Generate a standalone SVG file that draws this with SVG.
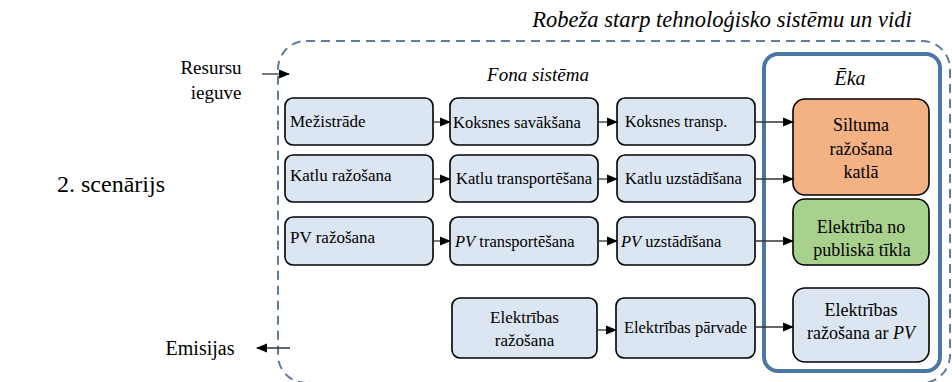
<svg xmlns="http://www.w3.org/2000/svg" width="952" height="382" viewBox="0 0 952 382">
<defs>
<marker id="ah" markerWidth="11" markerHeight="10" refX="10" refY="5" orient="auto" markerUnits="userSpaceOnUse">
<path d="M0,0.5 L11,5 L0,9.5 Z" fill="#000"/>
</marker>
<style>
.box{fill:#dce6f2;stroke:#000;stroke-width:1.6;}
.c{stroke:#333;stroke-width:1.3;fill:none;marker-end:url(#ah);}
.it{font-style:italic;}
</style>
</defs>
<rect width="952" height="382" fill="#fff"/>
<rect x="278" y="41" width="672" height="342" rx="28" fill="none" stroke="#5d7c9f" stroke-width="2" stroke-dasharray="9 6"/>
<g font-family="Liberation Serif, Times New Roman, serif" fill="#000">
<text class="it" x="722" y="27" font-size="22.5" text-anchor="middle">Robeža starp tehnoloģisko sistēmu un vidi</text>
<text class="it" x="538" y="81" font-size="19" text-anchor="middle">Fona sistēma</text>
<g id="eka">
<rect x="764" y="54" width="176" height="317" rx="14" fill="none" stroke="#4c77a3" stroke-width="4"/>
<text class="it" x="850" y="85" font-size="20" text-anchor="middle">Ēka</text>
</g>
<text x="211" y="74" font-size="19" text-anchor="middle">Resursu</text>
<text x="216" y="99" font-size="19" text-anchor="middle">ieguve</text>
<text x="111" y="192" font-size="24" text-anchor="middle">2. scenārijs</text>
<text x="200" y="355" font-size="20" text-anchor="middle">Emisijas</text>
<g id="mezistrade"><rect class="box" x="285" y="98" width="148" height="47" rx="8"/><text x="290" y="127" font-size="17">Mežistrāde</text></g>
<g id="koksnes_savaksana"><rect class="box" x="450" y="98" width="148" height="47" rx="8"/><text x="453" y="128" font-size="16.5">Koksnes savākšana</text></g>
<g id="koksnes_transp"><rect class="box" x="617" y="98" width="138" height="47" rx="8"/><text x="625" y="127" font-size="16">Koksnes transp.</text></g>
<g id="katlu_razosana"><rect class="box" x="285" y="155" width="148" height="47" rx="8"/><text x="290" y="181" font-size="17">Katlu ražošana</text></g>
<g id="katlu_transportesana"><rect class="box" x="450" y="155" width="148" height="47" rx="8"/><text x="456" y="184" font-size="16.5">Katlu transportēšana</text></g>
<g id="katlu_uzstadisana"><rect class="box" x="617" y="155" width="138" height="47" rx="8"/><text x="625" y="184" font-size="16.5">Katlu uzstādīšana</text></g>
<g id="pv_razosana"><rect class="box" x="285" y="217" width="148" height="48" rx="8"/><text x="290" y="243" font-size="17">PV ražošana</text></g>
<g id="pv_transportesana"><rect class="box" x="450" y="217" width="148" height="48" rx="8"/><text x="455" y="247" font-size="16.5"><tspan class="it">PV</tspan> transportēšana</text></g>
<g id="pv_uzstadisana"><rect class="box" x="617" y="217" width="138" height="48" rx="8"/><text x="621" y="247" font-size="16.5"><tspan class="it">PV</tspan> uzstādīšana</text></g>
<g id="elektribas_razosana"><rect class="box" x="452" y="298" width="145" height="60" rx="8"/><text x="524.5" y="323" font-size="17" text-anchor="middle">Elektrības</text><text x="524.5" y="346" font-size="17" text-anchor="middle">ražošana</text></g>
<g id="elektribas_parvade"><rect class="box" x="616" y="298" width="139" height="60" rx="8"/><text x="685.5" y="333" font-size="16.5" text-anchor="middle">Elektrības pārvade</text></g>
<g id="siltuma_razosana"><rect x="793" y="99" width="136" height="96" rx="12" fill="#f4b183" stroke="#000" stroke-width="1.6"/><text x="861" y="131" font-size="18" text-anchor="middle">Siltuma</text><text x="861" y="155" font-size="18" text-anchor="middle">ražošana</text><text x="861" y="178" font-size="18" text-anchor="middle">katlā</text></g>
<g id="elektriba_tikls"><rect x="793" y="199" width="136" height="66" rx="12" fill="#a9d18e" stroke="#000" stroke-width="1.6"/><text x="861" y="233" font-size="18" text-anchor="middle">Elektrība no</text><text x="862" y="256" font-size="18" text-anchor="middle">publiskā tīkla</text></g>
<g id="elektribas_pv"><rect class="box" x="793" y="288" width="136" height="74" rx="12"/><text x="861" y="316" font-size="18" text-anchor="middle">Elektrības</text><text x="861" y="339" font-size="18" text-anchor="middle">ražošana ar <tspan class="it">PV</tspan></text></g>
</g>
<g id="connectors">
<line class="c" x1="262" y1="74" x2="289" y2="74"/>
<line class="c" x1="290" y1="348" x2="257" y2="348"/>
<line class="c" x1="433" y1="122" x2="450" y2="122"/>
<line class="c" x1="598" y1="122" x2="617" y2="122"/>
<line class="c" x1="755" y1="122" x2="793" y2="122"/>
<line class="c" x1="433" y1="179" x2="450" y2="179"/>
<line class="c" x1="598" y1="179" x2="617" y2="179"/>
<line class="c" x1="755" y1="179" x2="793" y2="179"/>
<line class="c" x1="433" y1="241" x2="450" y2="241"/>
<line class="c" x1="598" y1="241" x2="617" y2="241"/>
<line class="c" x1="755" y1="241" x2="793" y2="241"/>
<line class="c" x1="597" y1="330" x2="616" y2="330"/>
<line class="c" x1="755" y1="327" x2="793" y2="327"/>
</g>
</svg>
